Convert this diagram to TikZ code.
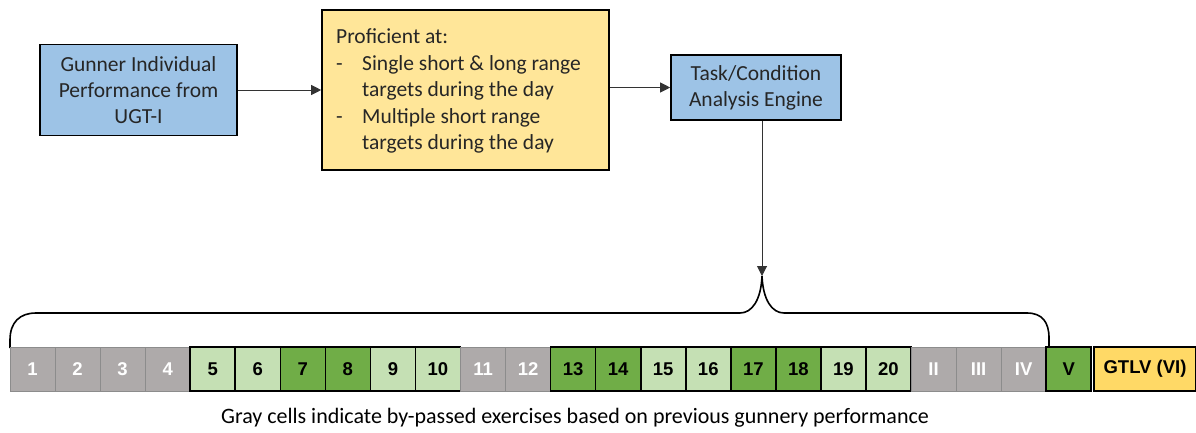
\documentclass[tikz,border=0pt]{standalone}
\usepackage{fontspec}
\setmainfont{Carlito}
\newfontfamily\cellfont{Liberation Sans}
\usetikzlibrary{arrows.meta}
\definecolor{boxblue}{HTML}{9DC3E6}
\definecolor{boxyellow}{HTML}{FFE699}
\definecolor{cellgray}{HTML}{AEAAAA}
\definecolor{cellgrayline}{HTML}{8C8C8C}
\definecolor{lightgreen}{HTML}{C5E0B4}
\definecolor{darkgreen}{HTML}{70AD47}
\definecolor{gtlvyellow}{HTML}{FFD966}
\definecolor{txt}{HTML}{262626}
\tikzset{
  infobox/.style={draw=black, line width=1.6pt, inner sep=0pt, text=txt, font=\fontsize{21.5}{26}\selectfont},
  conn/.style={draw=black!80, line width=1pt, -{Triangle[length=10pt,width=10pt]}},
  cell/.style={minimum height=44pt, inner sep=0pt, font=\cellfont\bfseries\fontsize{18.5}{20}\selectfont},
  graycell/.style={cell, fill=cellgray, draw=cellgrayline, line width=1pt, text=white},
  lgcell/.style={cell, fill=lightgreen, draw=black, line width=1.6pt, text=black},
  dgcell/.style={cell, fill=darkgreen, draw=black, line width=1.6pt, text=black},
  bracepath/.style={draw=black, line width=1.6pt},
}
\newcommand{\dashitem}{\makebox[26pt][l]{-}}
\begin{document}
\begin{tikzpicture}[x=1pt,y=-1pt]
\useasboundingbox (0,0) rectangle (1196,432);

% top boxes
\node[infobox, fill=boxblue, minimum width=197pt, minimum height=91pt, align=center] (gunner) at (138.5,90)
  {Gunner Individual\\Performance from\\UGT-I};
\node[infobox, fill=boxyellow, minimum width=287pt, minimum height=160pt] (prof) at (465.5,90) {};
\node[anchor=west, inner sep=0pt, text=txt, font=\fontsize{21.5}{26.5}\selectfont, align=left] (proftext) at (336,91)
  {Proficient at:\\
   \dashitem Single short \& long range\\
   \hspace{26pt}targets during the day\\
   \dashitem Multiple short range\\
   \hspace{26pt}targets during the day};
\node[infobox, fill=boxblue, minimum width=170pt, minimum height=65pt, align=center] (engine) at (756,87.5)
  {Task/Condition\\Analysis Engine};

\draw[conn] (gunner.east) -- (prof.west |- gunner.east);
\draw[conn] (prof.east |- engine.west) -- (engine.west);

% brace
\coordinate (bl) at (10,348);
\coordinate (br) at (1049,348);
\coordinate (btip) at (762,276);
\draw[bracepath] (bl) -- (10,340) .. controls (10,322) and (20,313) .. (36,313)
  -- (740,313) .. controls (752,313) and (761,300) .. (btip)
  .. controls (763,300) and (772,313) .. (784,313)
  -- (1027,313) .. controls (1042,313) and (1049,322) .. (1049,338) -- (br);
\draw[conn] (engine.south -| btip) -- (btip);

% cells
\def\cw{45.05}
\foreach \i/\lab/\sty in {0/1/graycell,1/2/graycell,2/3/graycell,3/4/graycell,
  4/5/lgcell,5/6/lgcell,6/7/dgcell,7/8/dgcell,8/9/lgcell,9/10/lgcell,
  10/11/graycell,11/12/graycell,12/13/dgcell,13/14/dgcell,14/15/lgcell,15/16/lgcell,
  16/17/dgcell,17/18/dgcell,18/19/lgcell,19/20/lgcell,
  20/II/graycell,21/III/graycell,22/IV/graycell,23/V/dgcell}
{
  \node[\sty, minimum width=\cw pt] (c\i) at ({10+\cw*(\i+0.5)},369) {\lab};
}
\node[cell, fill=gtlvyellow, draw=black, line width=1.6pt, minimum width=102pt, text=black] (gtlv) at (1145,369) {GTLV (VI)};

% caption
\node[text=black, font=\fontsize{22}{26}\selectfont, inner sep=0pt] (caption) at (575,418)
  {Gray cells indicate by-passed exercises based on previous gunnery performance};
\end{tikzpicture}
\end{document}
